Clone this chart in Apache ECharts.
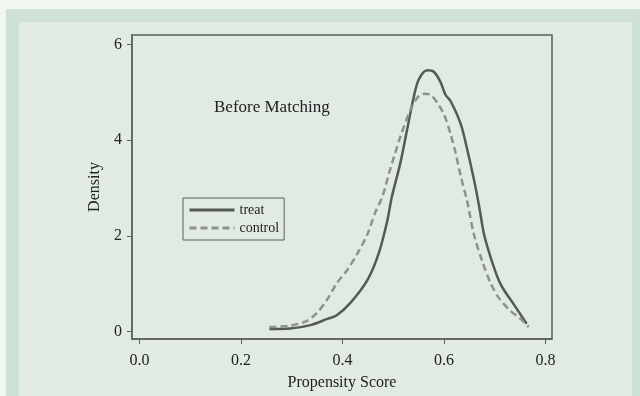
<!DOCTYPE html>
<html style="height:100%">
<meta charset="utf-8" />
<title>Propensity score density</title>
<script src="https://cdn.jsdelivr.net/npm/echarts@6/dist/echarts.min.js"></script>
<body style="margin:0;height:100%;width:100%">
<div id="chartmain" style="width:640px;height:396px;"></div>
<script type="text/javascript">

    // propensity score (x) and kernel density (y)
    var treatScore = [0.256, 0.297, 0.337, 0.370, 0.388, 0.416, 0.449, 0.471, 0.488, 0.497, 0.514, 0.527, 0.540, 0.550, 0.567, 0.580, 0.593, 0.603, 0.613, 0.633, 0.646, 0.659, 0.669, 0.679, 0.692, 0.708, 0.718, 0.738, 0.763];
    var treatDensity = [0.05, 0.06, 0.13, 0.26, 0.33, 0.60, 1.07, 1.62, 2.30, 2.80, 3.52, 4.20, 4.88, 5.26, 5.46, 5.43, 5.22, 4.95, 4.82, 4.34, 3.80, 3.18, 2.64, 2.03, 1.55, 1.07, 0.87, 0.56, 0.16];

    var controlScore = [0.256, 0.297, 0.330, 0.350, 0.370, 0.389, 0.409, 0.429, 0.449, 0.465, 0.478, 0.494, 0.514, 0.533, 0.547, 0.560, 0.573, 0.587, 0.600, 0.613, 0.623, 0.633, 0.646, 0.659, 0.675, 0.692, 0.708, 0.731, 0.751, 0.767];
    var controlDensity = [0.09, 0.12, 0.22, 0.39, 0.67, 1.01, 1.28, 1.62, 2.03, 2.50, 2.80, 3.39, 4.07, 4.61, 4.88, 4.97, 4.95, 4.78, 4.54, 4.13, 3.73, 3.25, 2.71, 2.03, 1.48, 1.01, 0.70, 0.43, 0.26, 0.09];

    var xTicks = [0, 0.2, 0.4, 0.6, 0.8];
    var yTicks = [0, 2, 4, 6];

    function pairs(xs, ys){
        var out = [];
        for(var i=0;i<xs.length;i++){
            out.push([xs[i], ys[i]]);
        }
        return out;
    }

    var axisColor = '#5b605d';
    var serif = 'Liberation Serif';

    var myChart = echarts.init(document.getElementById('chartmain'));
    var option = {
        backgroundColor: '#f0f7f1',
        animation: false,
        textStyle: { fontFamily: serif, color: '#222' },
        graphic: [
            { type: 'rect', left: 6, top: 9, shape: { width: 634, height: 387 }, style: { fill: '#cfe0d5' }, z: -10 },
            { type: 'rect', left: 19, top: 22, shape: { width: 613, height: 374 }, style: { fill: '#e1ebe3' }, z: -9 }
        ],
        title: {
            text: 'Before Matching',
            left: 214,
            top: 99,
            padding: 0,
            textStyle: { fontFamily: serif, fontSize: 17, fontWeight: 'normal', color: '#222' }
        },
        legend: {
            data: ['treat', 'control'],
            orient: 'vertical',
            left: 183,
            top: 198,
            padding: [5, 5, 5, 5],
            itemWidth: 45,
            itemHeight: 14,
            itemGap: 4,
            borderColor: '#5b605d',
            borderWidth: 1,
            itemStyle: { opacity: 0 },
            lineStyle: { width: 3 },
            textStyle: { fontFamily: serif, fontSize: 14, color: '#222' }
        },
        grid: {
            left: 132,
            top: 35,
            right: 88,
            bottom: 49,
            show: true,
            borderColor: axisColor,
            borderWidth: 1.5,
            backgroundColor: 'transparent'
        },
        xAxis: {
            type: 'value',
            min: -0.015,
            max: 0.813,
            name: 'Propensity Score',
            nameLocation: 'middle',
            nameGap: 36,
            nameTextStyle: { fontFamily: serif, fontSize: 16, color: '#222' },
            axisLine: { show: true, onZero: false, lineStyle: { color: axisColor, width: 1.5 } },
            axisTick: { show: true, length: 5, customValues: xTicks, lineStyle: { color: axisColor, width: 1 } },
            axisLabel: {
                customValues: xTicks,
                margin: 14,
                fontFamily: serif,
                fontSize: 16,
                color: '#222',
                formatter: function(v){ return v.toFixed(1); }
            },
            splitLine: { show: false }
        },
        yAxis: {
            type: 'value',
            min: -0.16,
            max: 6.2,
            name: 'Density',
            nameLocation: 'middle',
            nameGap: 27,
            nameTextStyle: { fontFamily: serif, fontSize: 16, color: '#222' },
            axisLine: { show: true, onZero: false, lineStyle: { color: axisColor, width: 1.5 } },
            axisTick: { show: true, length: 5, customValues: yTicks, lineStyle: { color: axisColor, width: 1 } },
            axisLabel: {
                customValues: yTicks,
                margin: 10,
                fontFamily: serif,
                fontSize: 16,
                color: '#222'
            },
            splitLine: { show: false }
        },
        series: [
            {
                name: 'treat',
                type: 'line',
                symbol: 'none',
                smooth: 0.3,
                data: pairs(treatScore, treatDensity),
                lineStyle: { color: '#555a58', width: 2.5 },
                itemStyle: { color: '#555a58' }
            },
            {
                name: 'control',
                type: 'line',
                symbol: 'none',
                smooth: 0.3,
                data: pairs(controlScore, controlDensity),
                lineStyle: { color: '#8d928f', width: 2.5, type: [7, 4] },
                itemStyle: { color: '#8d928f' }
            }
        ]
    };
    myChart.setOption(option);
</script>
</body>
</html>
